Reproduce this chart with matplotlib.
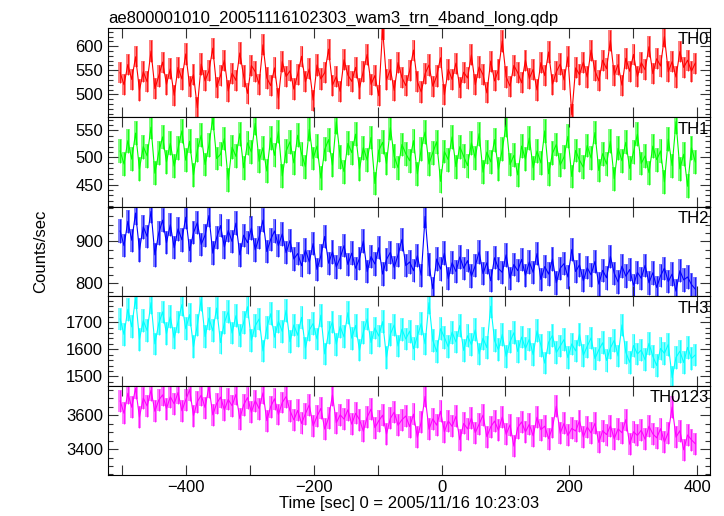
import numpy as np
import matplotlib
matplotlib.use('Agg')
import matplotlib.pyplot as plt
from matplotlib.ticker import MultipleLocator

plt.rcParams['font.family'] = ['Liberation Sans', 'DejaVu Sans']

title = 'ae800001010_20051116102303_wam3_trn_4band_long.qdp'
bands = ['TH0', 'TH1', 'TH2', 'TH3', 'TH0123']
colors = ['#ff0000', '#00ff00', '#0000ff', '#00ffff', '#ff00ff']
t_start, t_end = -503, 397

th0 = [545, 520, 562, 531, 578, 509, 547, 526, 590, 512, 538, 567, 521, 553, 498,
       556, 532, 584, 517, 541, 472, 563, 528, 549, 596, 515, 539, 571, 507, 544,
       529, 586, 538, 502, 560, 547, 521, 603, 534, 518, 555, 492, 568, 537, 549,
       511, 542, 579, 526, 553, 488, 561, 532, 545, 594, 519, 537, 506, 572, 540,
       527, 556, 513, 548, 583, 521, 539, 497, 636, 530, 552, 508, 566, 535, 518,
       549, 592, 526, 505, 543, 561, 517, 538, 576, 499, 552, 531, 565, 514, 546,
       534, 582, 520, 557, 541, 503, 569, 528, 551, 611, 536, 517, 560, 545, 524,
       571, 533, 552, 509, 566, 539, 588, 521, 547, 563, 530, 578, 458, 555, 541,
       567, 536, 592, 549, 528, 571, 553, 612, 540, 562, 519, 575, 548, 583, 537,
       566, 551, 599, 543, 574, 559, 620, 547, 568, 536, 589, 556, 571, 548, 565]

th1 = [512, 488, 531, 497, 545, 479, 520, 503, 556, 471, 509, 538, 492, 526, 484,
       517, 549, 495, 530, 468, 514, 541, 487, 523, 572, 498, 506, 535, 459, 519,
       502, 544, 481, 527, 510, 563, 493, 518, 475, 536, 504, 548, 466, 512, 529,
       490, 541, 507, 483, 552, 498, 521, 462, 515, 533, 486, 566, 501, 474, 526,
       509, 543, 479, 518, 495, 537, 452, 513, 528, 489, 555, 502, 481, 524, 507,
       494, 531, 470, 516, 547, 488, 509, 529, 456, 511, 496, 538, 483, 520, 502,
       485, 527, 499, 544, 473, 510, 492, 533, 478, 515, 560, 487, 504, 468, 521,
       497, 536, 481, 512, 490, 549, 470, 508, 524, 486, 501, 539, 465, 513, 495,
       482, 522, 499, 546, 476, 507, 488, 530, 461, 517, 494, 528, 480, 510, 543,
       489, 503, 472, 521, 496, 512, 455, 534, 485, 566, 479, 506, 447, 518, 492]

th2 = [925, 890, 948, 903, 968, 880, 935, 912, 972, 868, 920, 951, 897, 940, 885,
       930, 904, 958, 878, 921, 945, 893, 915, 962, 872, 909, 938, 887, 926, 900,
       944, 868, 915, 897, 932, 880, 910, 951, 876, 905, 925, 890, 918, 873, 902,
       858, 871, 842, 880, 851, 895, 833, 866, 912, 848, 875, 839, 861, 890, 845,
       872, 836, 859, 901, 828, 864, 846, 885, 822, 857, 874, 838, 868, 905, 842,
       851, 830, 866, 819, 960, 845, 787, 858, 834, 872, 811, 849, 828, 863, 836,
       854, 817, 842, 875, 823, 849, 806, 861, 835, 826, 868, 812, 845, 830, 857,
       819, 851, 826, 871, 809, 840, 822, 858, 801, 836, 847, 815, 881, 828, 844,
       806, 837, 820, 852, 798, 831, 813, 864, 824, 803, 841, 817, 833, 795, 826,
       812, 843, 801, 825, 790, 818, 836, 804, 822, 781, 830, 808, 815, 797, 786]

th3 = [1712, 1655, 1748, 1683, 1790, 1637, 1705, 1669, 1772, 1620, 1695, 1738, 1658, 1720, 1642,
       1701, 1765, 1676, 1728, 1610, 1690, 1784, 1647, 1715, 1668, 1752, 1625, 1698, 1739, 1660,
       1724, 1651, 1699, 1757, 1633, 1687, 1712, 1594, 1680, 1731, 1645, 1703, 1666, 1744, 1628,
       1690, 1652, 1718, 1605, 1671, 1695, 1638, 1726, 1583, 1662, 1701, 1619, 1684, 1646, 1735,
       1641, 1688, 1597, 1663, 1712, 1625, 1679, 1649, 1702, 1571, 1656, 1690, 1612, 1674, 1638,
       1667, 1602, 1648, 1695, 1620, 1772, 1633, 1591, 1676, 1644, 1609, 1663, 1627, 1688, 1596,
       1650, 1617, 1672, 1583, 1641, 1606, 1759, 1632, 1598, 1655, 1574, 1628, 1661, 1592, 1645,
       1603, 1637, 1580, 1668, 1615, 1549, 1626, 1651, 1588, 1612, 1636, 1569, 1620, 1594, 1655,
       1578, 1611, 1642, 1566, 1598, 1624, 1559, 1605, 1633, 1575, 1690, 1589, 1552, 1614, 1583,
       1597, 1561, 1622, 1574, 1540, 1603, 1585, 1618, 1496, 1570, 1593, 1551, 1607, 1566, 1579]

th0123 = [3685, 3612, 3731, 3648, 3760, 3590, 3702, 3655, 3748, 3624, 3690, 3721, 3640, 3710, 3668,
          3735, 3627, 3692, 3752, 3598, 3681, 3719, 3646, 3770, 3603, 3670, 3708, 3632, 3694, 3657,
          3724, 3581, 3662, 3705, 3618, 3687, 3640, 3733, 3569, 3652, 3698, 3605, 3676, 3711, 3628,
          3573, 3629, 3552, 3610, 3662, 3538, 3594, 3641, 3519, 3585, 3720, 3556, 3603, 3578, 3633,
          3548, 3612, 3575, 3506, 3590, 3637, 3527, 3568, 3601, 3490, 3582, 3619, 3541, 3574, 3596,
          3533, 3607, 3470, 3561, 3712, 3518, 3579, 3542, 3624, 3503, 3567, 3535, 3594, 3456, 3552,
          3520, 3583, 3497, 3548, 3601, 3474, 3532, 3566, 3511, 3590, 3488, 3544, 3418, 3527, 3561,
          3502, 3547, 3479, 3589, 3515, 3536, 3462, 3528, 3654, 3494, 3552, 3481, 3523, 3507, 3568,
          3473, 3531, 3496, 3552, 3440, 3509, 3486, 3538, 3462, 3520, 3497, 3575, 3429, 3503, 3481,
          3512, 3458, 3536, 3490, 3467, 3521, 3442, 3498, 3650, 3471, 3509, 3396, 3484, 3455, 3432]

rates = [th0, th1, th2, th3, th0123]
errors = [22, 22, 28, 42, 65]  # 1-sigma error per bin (counts/sec)

ylims = [(452, 638), (409, 574), (769, 983), (1466, 1796), (3247, 3776)]
ylabeled = [[500, 550, 600], [450, 500, 550], [800, 900], [1500, 1600, 1700], [3400, 3600]]
yminor = [10, 10, 20, 20, 50]

fig = plt.figure(figsize=(7.24, 5.16), dpi=100)
left, right = 108 / 724, 710 / 724
top, bottom = 1 - 28 / 516, 1 - 475 / 516
h = (top - bottom) / 5

axes = []
for k in range(5):
    ax = fig.add_axes([left, top - (k + 1) * h, right - left, h])
    y = np.array(rates[k])
    t = np.linspace(t_start, t_end, len(y))
    dt = t[1] - t[0]
    # error boxes, one per time bin
    ax.bar(t, 2 * errors[k], bottom=y - errors[k], width=dt, color=colors[k],
           alpha=0.5, linewidth=0)
    ax.vlines(t, y - errors[k], y + errors[k], color=colors[k], lw=0.8, alpha=0.8)
    ax.plot(t, y, color=colors[k], lw=0.8)
    ax.set_xlim(-522, 420)
    ax.set_ylim(*ylims[k])
    ax.set_yticks(ylabeled[k])
    ax.yaxis.set_minor_locator(MultipleLocator(yminor[k]))
    ax.xaxis.set_major_locator(MultipleLocator(200))
    ax.xaxis.set_minor_locator(MultipleLocator(100))
    ax.tick_params(which='both', direction='in', top=True, right=True,
                   labelsize=12, width=0.8, color='#333333')
    ax.tick_params(which='major', length=7)
    ax.tick_params(which='minor', length=3.5)
    ax.xaxis.set_tick_params(which='minor', length=7)
    ax.text(0.998, 0.95, bands[k], transform=ax.transAxes, ha='right', va='top',
            fontsize=12)
    if k < 4:
        ax.tick_params(labelbottom=False)
    axes.append(ax)

axes[0].set_title(title, loc='left', fontsize=12, pad=4)
axes[4].set_xlabel('Time [sec] 0 = 2005/11/16 10:23:03', fontsize=12, labelpad=1)
fig.text(0.056, (top + bottom) / 2, 'Counts/sec', rotation=90, ha='center',
         va='center', fontsize=12)

fig.savefig('out.png', dpi=100)
